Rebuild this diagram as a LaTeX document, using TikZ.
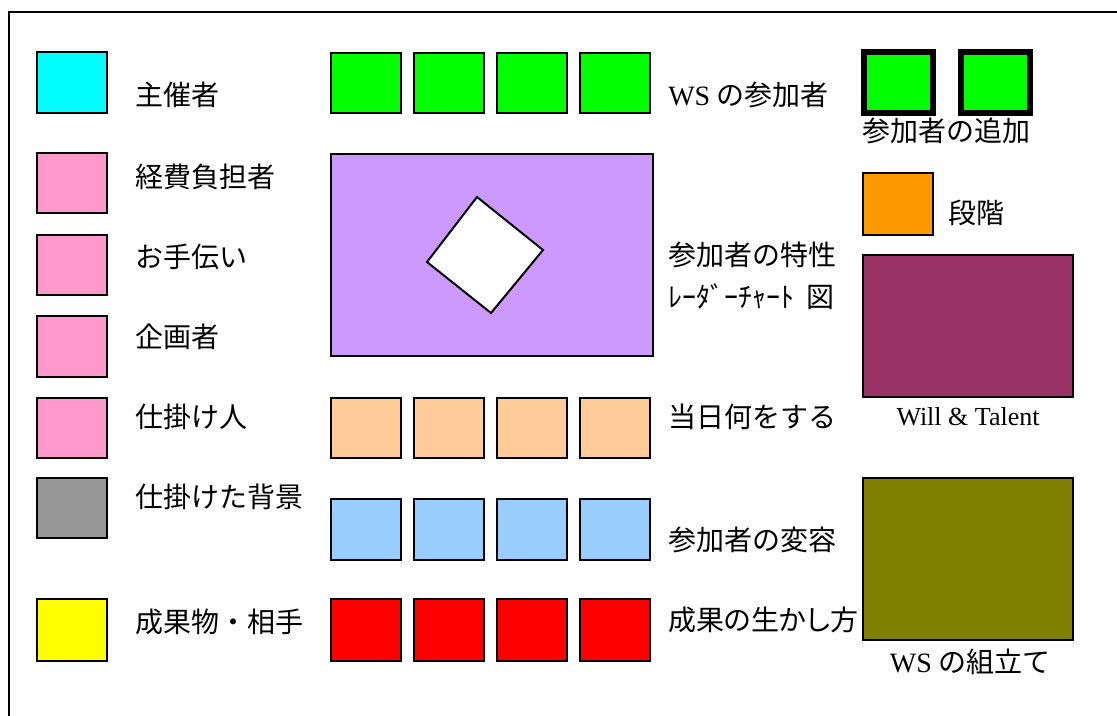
\documentclass[tikz,border=0pt]{standalone}
\usepackage{fontspec}
\newfontfamily\jp{Noto Sans CJK JP}
\newfontfamily\jpp[RawFeature=+palt]{Noto Sans CJK JP}
\newfontfamily\ser{Liberation Serif}
\definecolor{cCyan}{HTML}{00FFFF}
\definecolor{cPink}{HTML}{FF99CC}
\definecolor{cGray}{HTML}{969696}
\definecolor{cYellow}{HTML}{FFFF00}
\definecolor{cGreen}{HTML}{00FF00}
\definecolor{cLav}{HTML}{CC99FF}
\definecolor{cPeach}{HTML}{FFCC99}
\definecolor{cBlue}{HTML}{99CCFF}
\definecolor{cRed}{HTML}{FF0000}
\definecolor{cOrange}{HTML}{FF9900}
\definecolor{cPlum}{HTML}{993366}
\definecolor{cOlive}{HTML}{808000}
\newcommand\sq[6]{\node[box,fill=#6,minimum width={(#4-#2)*0.75pt},minimum height={(#5-#3)*0.75pt}] (#1) at ({(#2+#4)/2},{(#3+#5)/2}) {};}
\tikzset{
  box/.style={draw=black,line width=1.5pt,rectangle,inner sep=0pt},
  thickbox/.style={draw=black,line width=4.5pt,rectangle,inner sep=0pt,fill=cGreen},
  lbl/.style={inner sep=0pt,anchor=west,font=\jp\fontsize{21pt}{24pt}\selectfont},
  clbl/.style={inner sep=0pt,anchor=center,font=\jp\fontsize{21pt}{24pt}\selectfont},
}
\begin{document}
\begin{tikzpicture}[x=0.75pt,y=-0.75pt]
\useasboundingbox (0,0) rectangle (1117,715);
\draw[line width=1.5pt] (9,740) -- (9,12) -- (1140,12);
% left legend column
\sq{bCyan}{37}{52}{107}{113}{cCyan}
\sq{bP1}{37}{153}{107}{213}{cPink}
\sq{bP2}{37}{235}{107}{295}{cPink}
\sq{bP3}{37}{316}{107}{377}{cPink}
\sq{bP4}{37}{398}{107}{458}{cPink}
\sq{bGray}{37}{478}{107}{538}{cGray}
\sq{bYel}{37}{599}{107}{661}{cYellow}
\node[lbl] (t1) at (135,95) {主催者};
\node[lbl] (t2) at (135,177) {経費負担者};
\node[lbl] (t3) at (135,257) {お手伝い};
\node[lbl] (t4) at (135,337) {企画者};
\node[lbl] (t5) at (135,417) {仕掛け人};
\node[lbl] (t6) at (135,497) {仕掛けた背景};
\node[lbl] (t7) at (135,622) {成果物・相手};
% green row
\sq{g1}{331}{53}{401}{113}{cGreen}
\sq{g2}{414}{53}{484}{113}{cGreen}
\sq{g3}{497}{53}{567}{113}{cGreen}
\sq{g4}{580}{53}{650}{113}{cGreen}
\node[lbl] (tg) at (668,95) {{\ser WS} の参加者};
% lavender + diamond
\sq{lav}{331}{154}{653}{356}{cLav}
\draw[line width=1.5pt,fill=white] (477,197) -- (543,250) -- (491,313) -- (427,262) -- cycle;
\node[lbl] (tl1) at (668,255) {参加者の特性};
\node[lbl] (tl2) at (668,297) {ﾚｰﾀﾞｰﾁｬｰﾄ \ 図};
% peach row
\sq{p1}{331}{398}{401}{458}{cPeach}
\sq{p2}{414}{398}{484}{458}{cPeach}
\sq{p3}{497}{398}{567}{458}{cPeach}
\sq{p4}{580}{398}{650}{458}{cPeach}
\node[lbl] (tp) at (668,417) {当日何をする};
% blue row
\sq{c1}{331}{499}{401}{560}{cBlue}
\sq{c2}{414}{499}{484}{560}{cBlue}
\sq{c3}{497}{499}{567}{560}{cBlue}
\sq{c4}{580}{499}{650}{560}{cBlue}
\node[lbl] (tc) at (668,540) {参加者の変容};
% red row
\sq{r1}{331}{599}{401}{661}{cRed}
\sq{r2}{414}{599}{484}{661}{cRed}
\sq{r3}{497}{599}{567}{661}{cRed}
\sq{r4}{580}{599}{650}{661}{cRed}
\node[lbl,font=\jpp\fontsize{21pt}{24pt}\selectfont] (tr) at (668,620) {成果の生かし方};
% right column
\node[thickbox,minimum width=51.75pt,minimum height=45.75pt] (a1) at (898.5,82.5) {};
\node[thickbox,minimum width=51.75pt,minimum height=45.75pt] (a2) at (995.5,82.5) {};
\node[clbl] (ta) at (946,131) {参加者の追加};
\sq{or}{863}{173}{933}{235}{cOrange}
\node[lbl] (to) at (948,213) {段階};
\sq{will}{863}{255}{1073}{397}{cPlum}
\node[inner sep=0pt,anchor=center,font=\ser\fontsize{19.5pt}{22pt}\selectfont] (tw) at (968,417) {Will \& Talent};
\sq{ws}{863}{478}{1073}{640}{cOlive}
\node[clbl] (tws) at (970,662) {{\ser WS} の組立て};
\end{tikzpicture}
\end{document}
